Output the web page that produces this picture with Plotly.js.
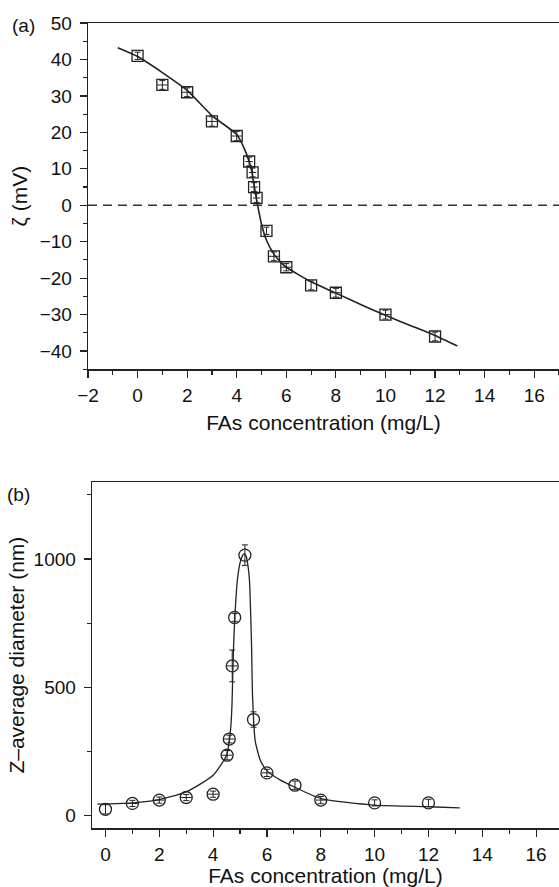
<!DOCTYPE html>
<html>
<head>
<meta charset="utf-8">
<script src="https://cdn.plot.ly/plotly-3.0.1.min.js"></script>
<style>html,body{margin:0;padding:0;background:#fff;overflow:hidden}#chart{width:559px;height:887px}</style>
</head>
<body>
<div id="chart"></div>
<script>
// Panel (a): zeta potential
const zetaX   = [0, 1, 2, 3, 4, 4.5, 4.64, 4.7, 4.8, 5.2, 5.5, 6, 7, 8, 10, 12];
const zetaY   = [41, 33, 31, 23, 19, 12, 9, 5, 2, -7, -14, -17, -22, -24, -30, -36];
const zetaErr = [1.0, 1.2, 1.2, 1.3, 1.3, 1.2, 1.2, 1.2, 1.2, 1.0, 1.2, 1.0, 1.2, 1.2, 1.2, 1.2];
const zetaErrX = [0, 0.2, 0.2, 0.2, 0.2, 0.15, 0.15, 0.15, 0.15, 0, 0.2, 0.2, 0, 0.2, 0.2, 0];
const zetaFitX = [-0.8, 0, 1, 2, 3, 4, 4.3, 4.5, 4.6, 4.7, 4.8, 4.9, 5.0, 5.2, 5.5, 5.8, 6, 7, 8, 9, 10, 11, 12, 12.9];
const zetaFitY = [43.2, 40.8, 36.4, 31.5, 24.6, 19.4, 15.6, 12, 9.5, 5.5, 1.5, -2, -5.2, -9.6, -13.4, -15.8, -17, -21, -24.1, -27.2, -30.2, -33, -35.7, -38.6];

// Panel (b): Z-average diameter
const diamX   = [0, 1, 2, 3, 4, 4.52, 4.6, 4.71, 4.8, 5.18, 5.5, 6, 7.04, 8, 10, 12];
const diamY   = [24, 47, 60, 70, 83, 235, 298, 583, 772, 1015, 374, 166, 118, 60, 49, 49];
const diamErr = [18, 12, 12, 12, 12, 18, 15, 62, 15, 40, 30, 14, 16, 14, 12, 14];
const diamErrX = [0, 0.2, 0.2, 0.2, 0.2, 0.2, 0.2, 0.2, 0, 0, 0, 0.2, 0, 0.2, 0, 0];
const diamFitX = [-0.3, 1, 2, 3, 4, 4.5, 4.6, 4.66, 4.7, 4.73, 4.76, 4.8, 4.9, 5.0, 5.08, 5.15, 5.22, 5.3, 5.35, 5.4, 5.43, 5.46, 5.5, 5.56, 5.75, 6, 6.5, 7, 8, 10, 12, 13.16];
const diamFitY = [44, 49, 62, 92, 157, 235, 290, 350, 430, 550, 660, 760, 917, 985, 1010, 1021, 1012, 970, 917, 770, 650, 480, 380, 293, 216, 174, 138, 112, 66, 40, 34, 30];

const xTitle = 'FAs concentration (mg/L)';
const ink = '#222';
const FONT = 'Liberation Sans, Arial, sans-serif';

const traces = [
  {x: zetaFitX, y: zetaFitY, xaxis: 'x', yaxis: 'y', mode: 'lines',
   line: {color: ink, width: 1.6, shape: 'spline', smoothing: 0.6}, hoverinfo: 'skip'},
  {x: zetaX, y: zetaY, xaxis: 'x', yaxis: 'y', mode: 'markers',
   marker: {symbol: 'square-open', size: 11, color: ink, line: {width: 1.3, color: ink}},
   error_y: {type: 'data', array: zetaErr, visible: true, color: ink, thickness: 1, width: 3},
   error_x: {type: 'data', array: zetaErrX, visible: true, color: ink, thickness: 1, width: 0}},
  {x: diamFitX, y: diamFitY, xaxis: 'x2', yaxis: 'y2', mode: 'lines',
   line: {color: ink, width: 1.3, shape: 'spline', smoothing: 0.6}, hoverinfo: 'skip'},
  {x: diamX, y: diamY, xaxis: 'x2', yaxis: 'y2', mode: 'markers',
   marker: {symbol: 'circle-open', size: 12, color: ink, line: {width: 1.3, color: ink}},
   error_y: {type: 'data', array: diamErr, visible: true, color: ink, thickness: 1, width: 3},
   error_x: {type: 'data', array: diamErrX, visible: true, color: ink, thickness: 1, width: 0}}
];

const axisCommon = {
  showline: true, linecolor: ink, linewidth: 1.3, showgrid: false, zeroline: false,
  ticks: 'outside', ticklen: 7, tickwidth: 1.2, tickcolor: ink,
  tickfont: {family: FONT, size: 19, color: '#111'}, fixedrange: true
};

const layout = {
  width: 559, height: 887,
  margin: {l: 0, r: 0, t: 0, b: 0},
  paper_bgcolor: '#fff', plot_bgcolor: '#fff',
  showlegend: false,
  font: {family: FONT, color: '#111'},
  xaxis: Object.assign({}, axisCommon, {
    domain: [88/559, 1], anchor: 'y', range: [-2, 17], dtick: 2, tick0: 0, mirror: true,
    minor: {dtick: 1, ticks: 'outside', ticklen: 4, tickwidth: 1.1, tickcolor: ink},
    ticklabelstandoff: 2,
    title: {text: xTitle, font: {family: FONT, size: 21, color: '#111'}, standoff: 10}
  }),
  yaxis: Object.assign({}, axisCommon, {
    domain: [(887-369.3)/887, (887-23)/887], anchor: 'x', range: [-45, 50], dtick: 10, tick0: 0,
    minor: {dtick: 5, ticks: 'outside', ticklen: 4, tickwidth: 1.1, tickcolor: ink},
    ticklabelstandoff: 4,
    title: {text: 'ζ (mV)', font: {family: FONT, size: 21, color: '#111'}, standoff: 6}
  }),
  xaxis2: Object.assign({}, axisCommon, {
    domain: [92/559, 1], anchor: 'y2', range: [-0.5, 16.85], dtick: 2, tick0: 0, mirror: true,
    minor: {dtick: 1, ticks: 'outside', ticklen: 4, tickwidth: 1.1, tickcolor: ink},
    ticklabelstandoff: 2,
    title: {text: xTitle, font: {family: FONT, size: 21, color: '#111'}, standoff: 8}
  }),
  yaxis2: Object.assign({}, axisCommon, {
    domain: [(887-828.3)/887, (887-482)/887], anchor: 'x2', range: [-50, 1300], dtick: 500, tick0: 0,
    minor: {dtick: 250, ticks: 'outside', ticklen: 4, tickwidth: 1.1, tickcolor: ink},
    ticklabelstandoff: 4,
    title: {text: 'Z–average diameter (nm)', font: {family: FONT, size: 21, color: '#111'}, standoff: 3}
  }),
  shapes: [
    {type: 'line', xref: 'x domain', yref: 'y', x0: 0, x1: 1, y0: 0, y1: 0,
     line: {color: '#333', width: 1.6, dash: '9px,6px'}}
  ],
  annotations: [
    {text: '(a)', xref: 'paper', yref: 'paper', x: 23/559, y: (887-25)/887, xanchor: 'center', yanchor: 'middle',
     showarrow: false, font: {family: FONT, size: 19, color: '#111'}},
    {text: '(b)', xref: 'paper', yref: 'paper', x: 18/559, y: (887-494)/887, xanchor: 'center', yanchor: 'middle',
     showarrow: false, font: {family: FONT, size: 19, color: '#111'}}
  ]
};

Plotly.newPlot('chart', traces, layout, {displayModeBar: false, staticPlot: true});
</script>
</body>
</html>
